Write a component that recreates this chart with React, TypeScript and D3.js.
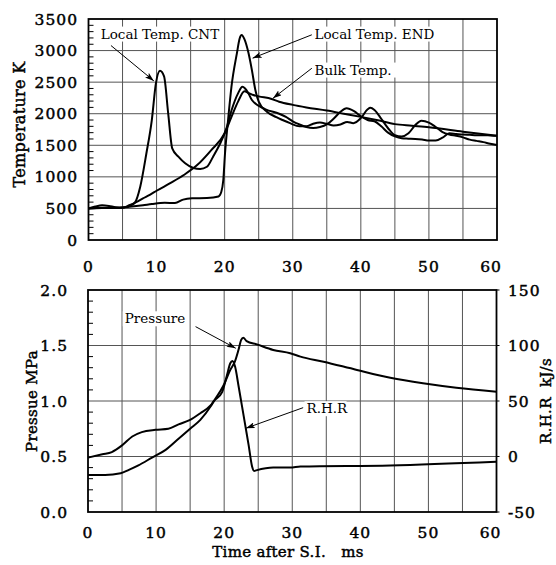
import React from 'react';
import * as d3 from 'd3';

// axis ticks
const timeTicks = [0, 10, 20, 30, 40, 50, 60];
const tempTicks = [0, 500, 1000, 1500, 2000, 2500, 3000, 3500];
const pressTicks = [0, 0.5, 1.0, 1.5, 2.0];
const rhrTicks = [-50, 0, 50, 100, 150];

// [time ms, temperature K]
const cntTemp: [number, number][] = [
  [0, 500], [1, 530], [2, 550], [3, 540], [4, 520], [5, 515], [6, 540], [6.8, 590],
  [7.6, 845], [8.5, 1370], [9.3, 1900], [9.9, 2480], [10.5, 2680], [11.1, 2590],
  [11.7, 2010], [12.3, 1450], [13.2, 1320], [14.2, 1215], [15.4, 1140], [16.4, 1124],
  [17.4, 1160], [18.3, 1320], [19.3, 1520], [20.3, 1780], [21, 2050], [22, 2330],
  [22.6, 2428], [23, 2400], [23.5, 2320], [24, 2217], [26, 2070], [28, 2000], [29, 1950],
  [30, 1880], [31, 1830], [32, 1790], [33, 1775], [34, 1790], [35, 1830], [36, 1920],
  [37, 2030], [37.9, 2085], [39, 2040], [40, 1960], [41, 1900], [42, 1880], [43, 1800],
  [44, 1700], [45, 1640], [46, 1610], [47, 1605], [48, 1600], [49, 1590], [50, 1575],
  [51, 1575], [52, 1620], [53, 1690], [54, 1680], [55, 1670], [56, 1665], [57, 1660],
  [58, 1660], [59, 1655], [60, 1650],
];

const endTemp: [number, number][] = [
  [0, 500], [2, 505], [4, 510], [5, 515], [6, 525], [8, 550], [9.3, 570], [11.2, 590],
  [12.7, 585], [13.9, 640], [15.2, 660], [17.4, 665], [19.1, 690], [19.5, 760],
  [19.8, 950], [20.05, 1370], [20.5, 1900], [21, 2430], [21.8, 2960], [22.2, 3190],
  [22.5, 3245], [22.9, 3180], [23.5, 2960], [24, 2690], [24.5, 2380], [25, 2190],
  [26.2, 2030], [27.6, 1945], [28.5, 1900], [29.6, 1850], [31, 1800], [32, 1800],
  [33, 1840], [34, 1860], [35, 1840], [36, 1815], [37, 1830], [38, 1870], [38.9, 1850],
  [40, 1930], [41, 2070], [41.4, 2095], [42, 2060], [43, 1920], [44, 1770], [45, 1660],
  [46, 1640], [47, 1690], [48, 1820], [48.9, 1890], [50, 1860], [51, 1790], [52, 1710],
  [53, 1670], [54, 1650], [55, 1625], [56, 1590], [57, 1570], [58, 1550], [59, 1525],
  [60, 1505],
];

const bulkTemp: [number, number][] = [
  [0, 500], [2, 510], [4, 505], [5, 510], [6, 550], [7, 600], [8, 660], [9, 715],
  [10, 780], [12, 900], [14, 1030], [16, 1190], [18, 1420], [20, 1690], [21, 1950],
  [22, 2200], [22.9, 2355], [23.5, 2330], [24.2, 2296], [25, 2275], [26.9, 2233],
  [28, 2190], [30, 2140], [32, 2100], [35, 2050], [37.5, 2000], [40, 1950], [42.5, 1895],
  [45, 1835], [47.5, 1810], [50, 1785], [55, 1716], [60, 1650],
];

// [time ms, pressure MPa]
const pressure: [number, number][] = [
  [0, 0.334], [2.5, 0.334], [4.8, 0.35], [6, 0.38], [7.4, 0.42], [9.4, 0.49],
  [11.4, 0.56], [13.3, 0.66], [15, 0.75], [16.5, 0.83], [18, 0.95], [18.5, 1.0],
  [19.9, 1.14], [20.9, 1.28], [21.6, 1.36], [22.1, 1.46], [22.5, 1.55], [22.8, 1.57],
  [23.3, 1.54], [24.8, 1.51], [27.2, 1.46], [29.7, 1.43], [31.2, 1.40], [34.6, 1.354],
  [39.5, 1.28], [44.4, 1.21], [49.2, 1.16], [54.1, 1.12], [60, 1.084],
];

// [time ms, rate of heat release kJ/s]
const rhr: [number, number][] = [
  [0, -1], [2.1, 2], [3.5, 4], [5, 10], [6.5, 18], [7.9, 22], [9.9, 24], [11.8, 25],
  [13.3, 29], [15, 33], [16.5, 39], [18, 46], [18.5, 50], [19.7, 58], [20.4, 73],
  [20.9, 84], [21.2, 86], [21.6, 81], [22.1, 64], [22.6, 46], [23.1, 28], [23.6, 10],
  [24.1, -9], [24.4, -13], [24.7, -12.5], [27.2, -10], [29.7, -10], [31.2, -9],
  [44.4, -8], [60, -4.7],
];

const FONT = "'DejaVu Serif', 'Liberation Serif', serif";

export default function App() {
  const xTop = d3.scaleLinear().domain([0, 60]).range([88.5, 497]);
  const yTemp = d3.scaleLinear().domain([0, 3500]).range([240, 19]);
  const xBot = d3.scaleLinear().domain([0, 60]).range([88, 496.5]);
  const yPress = d3.scaleLinear().domain([0, 2]).range([512, 290]);
  const yRhr = d3.scaleLinear().domain([-50, 150]).range([512, 290]);

  const lineTemp = d3.line<[number, number]>()
    .x(d => xTop(d[0])).y(d => yTemp(d[1])).curve(d3.curveMonotoneX);
  const linePress = d3.line<[number, number]>()
    .x(d => xBot(d[0])).y(d => yPress(d[1])).curve(d3.curveMonotoneX);
  const lineRhr = d3.line<[number, number]>()
    .x(d => xBot(d[0])).y(d => yRhr(d[1])).curve(d3.curveMonotoneX);

  const gridX = d3.range(5, 60, 5);
  const tempMinor = d3.range(100, 3500, 100).filter(v => v % 500 !== 0);
  const pressMinor = d3.range(1, 20).map(v => v / 10).filter(v => Math.round(v * 10) % 5 !== 0);

  // heavy serif look: regular weight with a thin outline
  const tickStyle = { fontFamily: FONT, fontSize: 15.5, letterSpacing: 1, stroke: '#000', strokeWidth: 0.45 };
  const titleStyle = { fontFamily: FONT, fontSize: 15, letterSpacing: 0.3, stroke: '#000', strokeWidth: 0.45 };
  const noteStyle = { fontFamily: FONT, fontSize: 13.5 };

  // annotations in data coords: label start, arrow tail, arrow tip
  const tempNotes = [
    { text: 'Local Temp. CNT', tx: 1.8, ty: 3190, x1: 3.3, y1: 3080, x2: 9.6, y2: 2520 },
    { text: 'Local Temp. END', tx: 33.2, ty: 3190, x1: 32.8, y1: 3250, x2: 24.1, y2: 2880 },
    { text: 'Bulk Temp.', tx: 33.2, ty: 2620, x1: 32.8, y1: 2720, x2: 27.1, y2: 2245 },
  ];
  const pressNotes = [
    { text: 'Pressure', tx: 5.4, ty: 1.70, x1: 15.8, y1: 1.67, x2: 21.7, y2: 1.475 },
    { text: 'R.H.R', tx: 32.1, ty: 0.89, x1: 31.6, y1: 0.94, x2: 23.2, y2: 0.755 },
  ];

  return (
    <svg width={556} height={565} style={{ position: 'absolute', left: 0, top: 0, background: '#fff' }}>
      <defs>
        <marker id="arr" markerUnits="userSpaceOnUse" markerWidth={9} markerHeight={6}
          refX={9} refY={3} orient="auto">
          <path d="M0,0 L9,3 L0,6 L2,3 z" fill="#000" />
        </marker>
      </defs>

      {/* ---------- top chart ---------- */}
      <g>
        {gridX.map(t => (
          <line key={'gx' + t} x1={xTop(t)} x2={xTop(t)} y1={yTemp(0)} y2={yTemp(3500)} stroke="#555" strokeWidth={1} />
        ))}
        {tempTicks.slice(1, -1).map(v => (
          <line key={'gy' + v} x1={xTop(0)} x2={xTop(60)} y1={yTemp(v)} y2={yTemp(v)} stroke="#555" strokeWidth={1} />
        ))}
        {tempMinor.map(v => (
          <line key={'tm' + v} x1={xTop(0)} x2={xTop(0) + 5} y1={yTemp(v)} y2={yTemp(v)} stroke="#000" strokeWidth={1} />
        ))}
        <path d={lineTemp(bulkTemp) || ''} fill="none" stroke="#000" strokeWidth={2} />
        <path d={lineTemp(cntTemp) || ''} fill="none" stroke="#000" strokeWidth={2} />
        <path d={lineTemp(endTemp) || ''} fill="none" stroke="#000" strokeWidth={2} />
        <rect x={xTop(0)} y={yTemp(3500)} width={xTop(60) - xTop(0)} height={yTemp(0) - yTemp(3500)}
          fill="none" stroke="#000" strokeWidth={1.8} />
        {tempTicks.map(v => (
          <text key={'tl' + v} x={78} y={yTemp(v)} dy="0.36em" textAnchor="end" style={tickStyle}>{v}</text>
        ))}
        {timeTicks.map(t => (
          <text key={'xl' + t} x={xTop(t)} y={272} dx={t === 60 ? -6 : 0} textAnchor="middle" style={tickStyle}>{t}</text>
        ))}
        <text transform={`translate(19,${(yTemp(0) + yTemp(3500)) / 2 - 5}) rotate(-90)`} textAnchor="middle"
          dominantBaseline="central" style={{ ...titleStyle, fontSize: 16 }}>Temperature K</text>
        {tempNotes.map(n => (
          <g key={n.text}>
            <rect x={xTop(n.tx) - 2} y={yTemp(n.ty) - 12} width={n.text.length * 8.2 + 2} height={15} fill="#fff" />
            <text x={xTop(n.tx)} y={yTemp(n.ty)} style={noteStyle}>{n.text}</text>
            <line x1={xTop(n.x1)} y1={yTemp(n.y1)} x2={xTop(n.x2)} y2={yTemp(n.y2)} stroke="#000"
              strokeWidth={1} markerEnd="url(#arr)" />
          </g>
        ))}
      </g>

      {/* ---------- bottom chart ---------- */}
      <g>
        {gridX.map(t => (
          <line key={'bgx' + t} x1={xBot(t)} x2={xBot(t)} y1={yPress(0)} y2={yPress(2)} stroke="#555" strokeWidth={1} />
        ))}
        {pressTicks.slice(1, -1).map(v => (
          <line key={'bgy' + v} x1={xBot(0)} x2={xBot(60)} y1={yPress(v)} y2={yPress(v)} stroke="#555" strokeWidth={1} />
        ))}
        {pressMinor.map(v => (
          <line key={'pm' + v} x1={xBot(0)} x2={xBot(0) + 5} y1={yPress(v)} y2={yPress(v)} stroke="#000" strokeWidth={1} />
        ))}
        {rhrTicks.map(v => (
          <line key={'rt' + v} x1={xBot(60)} x2={xBot(60) + 3} y1={yRhr(v)} y2={yRhr(v)} stroke="#000" strokeWidth={1} />
        ))}
        <path d={linePress(pressure) || ''} fill="none" stroke="#000" strokeWidth={2} />
        <path d={lineRhr(rhr) || ''} fill="none" stroke="#000" strokeWidth={2} />
        <rect x={xBot(0)} y={yPress(2)} width={xBot(60) - xBot(0)} height={yPress(0) - yPress(2)}
          fill="none" stroke="#000" strokeWidth={1.8} />
        {pressTicks.map(v => (
          <text key={'pl' + v} x={68} y={yPress(v)} dy="0.36em" textAnchor="end" style={tickStyle}>{v.toFixed(1)}</text>
        ))}
        {rhrTicks.map(v => (
          <text key={'rl' + v} x={508} y={yRhr(v)} dy="0.36em" textAnchor="start" style={tickStyle}>{v}</text>
        ))}
        {timeTicks.map(t => (
          <text key={'bxl' + t} x={xBot(t)} y={538} dx={t === 60 ? -6 : 0} textAnchor="middle" style={tickStyle}>{t}</text>
        ))}
        <text x={288} y={557} textAnchor="middle" style={{ ...titleStyle, fontSize: 15 }}>
          Time after S.I.{'\u00a0\u00a0\u00a0'}ms
        </text>
        <text transform={`translate(32,${(yPress(0) + yPress(2)) / 2}) rotate(-90)`} textAnchor="middle"
          dominantBaseline="central" style={titleStyle}>Pressue MPa</text>
        <text transform={`translate(546,${(yPress(0) + yPress(2)) / 2}) rotate(-90)`} textAnchor="middle"
          dominantBaseline="central" style={titleStyle}>
          R.H.R{'\u00a0\u00a0'}kJ/s
        </text>
        {pressNotes.map(n => (
          <g key={n.text}>
            <rect x={xBot(n.tx) - 2} y={yPress(n.ty) - 12} width={n.text.length * 8 + 2} height={15} fill="#fff" />
            <text x={xBot(n.tx)} y={yPress(n.ty)} style={noteStyle}>{n.text}</text>
            <line x1={xBot(n.x1)} y1={yPress(n.y1)} x2={xBot(n.x2)} y2={yPress(n.y2)} stroke="#000"
              strokeWidth={1} markerEnd="url(#arr)" />
          </g>
        ))}
      </g>
    </svg>
  );
}
